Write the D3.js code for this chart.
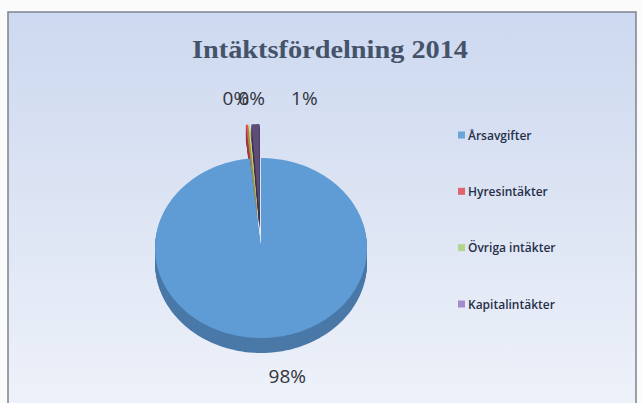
<!DOCTYPE html>
<html><head><meta charset="utf-8">
<script src="https://cdn.jsdelivr.net/npm/d3@7"></script>
<style>html,body{margin:0;padding:0;background:#fbfbfb;}svg{display:block;}</style>
</head><body>
<script>
const title = "Intäktsfördelning 2014";
const categories = ["Årsavgifter", "Hyresintäkter", "Övriga intäkter", "Kapitalintäkter"];
const values = [98.3, 0.3, 0.2, 1.2];
const topColors = ["#5f9cd5", "#d9545e", "#d8d67a", "#5d4d78"];
const sideColors = ["#4a79a8", "#9e3a40", "#9a9650", "#3e3450"];
const legendColors = ["#6aa5d8", "#e06470", "#b4d48c", "#a48ccc"];
const explode = [0, 40, 40, 40];
const labelNudge = [19, -8, 5, 50];

const W = 642, H = 403;
const svg = d3.select("body").append("svg").attr("width", W).attr("height", H);
const defs = svg.append("defs");
const g = defs.append("linearGradient").attr("id", "bg").attr("x1", 0).attr("y1", 0).attr("x2", 0).attr("y2", 1);
g.append("stop").attr("offset", "0%").attr("stop-color", "#cdd9f0");
g.append("stop").attr("offset", "55%").attr("stop-color", "#dfe6f4");
g.append("stop").attr("offset", "100%").attr("stop-color", "#eef2fa");

svg.append("rect").attr("x", 8).attr("y", 12).attr("width", 628).attr("height", 400)
  .attr("fill", "url(#bg)").attr("stroke", "#7d8290").attr("stroke-width", 1.5);

svg.append("text").attr("x", 330).attr("y", 58).attr("text-anchor", "middle")
  .attr("font-family", "'Liberation Serif', 'DejaVu Serif', serif").attr("font-weight", "bold")
  .attr("font-size", 26).attr("fill", "#45536a")
  .attr("textLength", 276).attr("lengthAdjust", "spacingAndGlyphs").text(title);

const cx = 261, cy = 248, rx = 106, ry = 90, depth = 15;
const k = ry / rx;
const pie = d3.pie().sort(null).value(d => d)(values);

function facePath(s, ox, oy) {
  const n = Math.max(2, Math.ceil((s.endAngle - s.startAngle) / 0.02));
  const pts = [[ox, oy]];
  for (let i = 0; i <= n; i++) {
    const a = s.startAngle + (s.endAngle - s.startAngle) * i / n;
    pts.push([ox + rx * Math.sin(a), oy - ry * Math.cos(a)]);
  }
  return d3.line()(pts) + "Z";
}

const pg = svg.append("g");
const order = [1, 2, 3, 0];
order.forEach(i => {
  const s = pie[i];
  const mid = (s.startAngle + s.endAngle) / 2;
  const ox = cx + explode[i] * Math.sin(mid);
  const oy = cy - explode[i] * k * Math.cos(mid);
  for (let d = depth; d >= 1; d--) {
    pg.append("path").attr("d", facePath(s, ox, oy + d)).attr("fill", sideColors[i]);
  }
  pg.append("path").attr("d", facePath(s, ox, oy)).attr("fill", topColors[i]);
});

// labels
pie.forEach((s, i) => {
  const mid = (s.startAngle + s.endAngle) / 2;
  const up = Math.cos(mid) > 0;
  const x = cx + (rx + 30 + explode[i]) * Math.sin(mid) + labelNudge[i];
  const y = up ? cy - ry - explode[i] * k - 19 : cy + ry + depth + 30;
  svg.append("text").attr("x", x).attr("y", y).attr("text-anchor", "middle")
    .attr("font-family", "'Open Sans', 'Noto Sans', sans-serif").attr("font-size", 19)
    .attr("fill", "#33343c").text(Math.round(values[i]) + "%");
});

// legend
const ly = d3.scalePoint().domain(categories).range([135, 304]);
const lg = svg.append("g");
categories.forEach((c, i) => {
  lg.append("rect").attr("x", 458).attr("y", ly(c) - 3.5).attr("width", 7).attr("height", 7).attr("fill", legendColors[i]);
  lg.append("text").attr("x", 468).attr("y", ly(c) + 4.5)
    .attr("font-family", "'Open Sans', 'Noto Sans', sans-serif").attr("font-size", 12).attr("font-weight", 600)
    .attr("fill", "#26304a").text(c);
});
</script>
</body></html>
